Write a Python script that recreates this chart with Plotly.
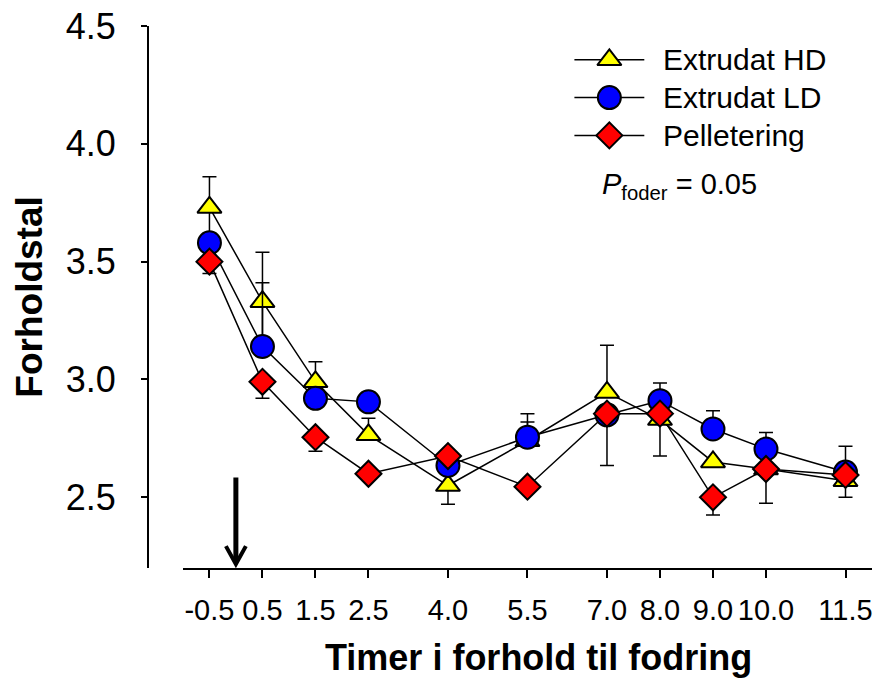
import plotly.graph_objects as go

# ---- data ----
times = [-0.5, 0.5, 1.5, 2.5, 4.0, 5.5, 7.0, 8.0, 9.0, 10.0, 11.5]
tick_labels = ["-0.5", "0.5", "1.5", "2.5", "4.0", "5.5", "7.0", "8.0", "9.0", "10.0", "11.5"]

hd = [3.73, 3.33, 2.99, 2.765, 2.55, 2.74, 2.945, 2.83, 2.65, 2.62, 2.57]
hd_plus = [0.13, 0.21, 0.085, 0.07, 0, 0.08, 0.20, 0, 0, 0, 0]
hd_minus = [0.13, 0.21, 0, 0, 0.08, 0, 0, 0, 0, 0, 0.07]

ld = [3.58, 3.14, 2.92, 2.905, 2.635, 2.755, 2.85, 2.91, 2.79, 2.705, 2.607]
ld_plus = [0, 0.27, 0, 0, 0, 0.10, 0, 0.075, 0.077, 0.07, 0.11]
ld_minus = [0] * 11

pell = [3.50, 2.99, 2.755, 2.60, 2.675, 2.545, 2.855, 2.855, 2.50, 2.62, 2.595]
pell_plus = [0] * 11
pell_minus = [0.05, 0.07, 0.06, 0, 0, 0, 0.22, 0.18, 0.075, 0.145, 0]

series_names = ["Extrudat HD", "Extrudat LD", "Pelletering"]
series_colors = ["#FFFF00", "#0000FF", "#FF0000"]
series_symbols = ["triangle-up", "circle", "diamond"]
series_sizes = [21, 23, 20]

W, H = 879, 688
L, R, T, B = 148, 6, 23, 120
PW, PH = W - L - R, H - T - B


def pxx(px):
    return (px - L) / PW


def pxy(py):
    return (H - B - py) / PH


FONT = "Liberation Sans, Arial, sans-serif"

fig = go.Figure()

vals = [hd, ld, pell]
plus = [hd_plus, ld_plus, pell_plus]
minus = [hd_minus, ld_minus, pell_minus]

# lines first (under all markers)
for v in vals:
    fig.add_trace(go.Scatter(x=times, y=v, mode="lines", line=dict(color="black", width=1.5),
                             showlegend=False, hoverinfo="skip"))

# markers with error bars
for i, v in enumerate(vals):
    fig.add_trace(go.Scatter(
        x=times, y=v, mode="markers", name=series_names[i], showlegend=False,
        marker=dict(symbol=series_symbols[i], size=series_sizes[i], color=series_colors[i],
                    line=dict(color="black", width=2)),
        error_y=dict(type="data", symmetric=False, array=plus[i], arrayminus=minus[i],
                     color="black", thickness=1.5, width=7),
        cliponaxis=False,
    ))

# custom legend on a pixel-space overlay axis
legend_rows = [57, 95, 133]
for i in range(3):
    fig.add_trace(go.Scatter(x=[575, 645], y=[legend_rows[i]] * 2, mode="lines",
                             line=dict(color="black", width=1.5), xaxis="x2", yaxis="y2",
                             showlegend=False, hoverinfo="skip", cliponaxis=False))
    fig.add_trace(go.Scatter(x=[610], y=[legend_rows[i]], mode="markers",
                             marker=dict(symbol=series_symbols[i], size=series_sizes[i],
                                         color=series_colors[i], line=dict(color="black", width=2)),
                             xaxis="x2", yaxis="y2", showlegend=False, hoverinfo="skip",
                             cliponaxis=False))

annotations = []
for i in range(3):
    annotations.append(dict(x=pxx(662), y=pxy(legend_rows[i]), xref="paper", yref="paper",
                            text=series_names[i], showarrow=False, xanchor="left", yanchor="middle",
                            font=dict(family=FONT, size=30, color="black")))
annotations.append(dict(x=pxx(601), y=pxy(184), xref="paper", yref="paper",
                        text="<i>P</i><sub>foder</sub> = 0.05", showarrow=False,
                        xanchor="left", yanchor="middle",
                        font=dict(family=FONT, size=29, color="black")))
# axis titles
annotations.append(dict(x=pxx(539), y=pxy(658), xref="paper", yref="paper",
                        text="<b>Timer i forhold til fodring</b>", showarrow=False,
                        xanchor="center", yanchor="middle",
                        font=dict(family=FONT, size=36, color="black")))
annotations.append(dict(x=pxx(29), y=pxy(296), xref="paper", yref="paper",
                        text="<b>Forholdstal</b>", showarrow=False, textangle=-90,
                        xanchor="center", yanchor="middle",
                        font=dict(family=FONT, size=37, color="black")))

# feeding arrow
shapes = [
    dict(type="line", xref="paper", yref="paper", x0=pxx(236), x1=pxx(236), y0=pxy(477), y1=pxy(562),
         line=dict(color="black", width=5)),
    dict(type="path", xref="paper", yref="paper",
         path=f"M {pxx(226)},{pxy(546)} L {pxx(236)},{pxy(564)} L {pxx(246)},{pxy(546)}",
         line=dict(color="black", width=4)),
]

fig.update_layout(
    width=W, height=H,
    margin=dict(l=L, r=R, t=T, b=B, pad=0),
    paper_bgcolor="white", plot_bgcolor="rgba(0,0,0,0)",
    showlegend=False,
    annotations=annotations, shapes=shapes,
    xaxis=dict(domain=[(183 - L) / PW, 1], range=[-1, 12], tickmode="array",
               tickvals=times, ticktext=tick_labels, showgrid=False, zeroline=False,
               showline=True, linecolor="black", linewidth=2, ticks="outside",
               ticklen=8, tickwidth=1.5, tickcolor="black", anchor="y",
               tickangle=0, ticklabelstandoff=7,
               tickfont=dict(family=FONT, size=29, color="black")),
    yaxis=dict(domain=[0, 1], range=[2.2, 4.5], tick0=0, dtick=0.5, showgrid=False,
               zeroline=False, showline=True, linecolor="black", linewidth=2,
               ticks="outside", ticklen=6, tickwidth=1.5, tickcolor="black",
               anchor="free", position=0, tickformat=".1f", ticklabelstandoff=18,
               tickfont=dict(family=FONT, size=36, color="black")),
    xaxis2=dict(domain=[0, 1], range=[L, W - R], visible=False, anchor="y2"),
    yaxis2=dict(domain=[0, 1], range=[H - B, T], visible=False, anchor="x2"),
)

fig.write_html("out.html", config={"displayModeBar": False},
               post_script="document.body.style.margin='0px';document.body.style.padding='0px';")
